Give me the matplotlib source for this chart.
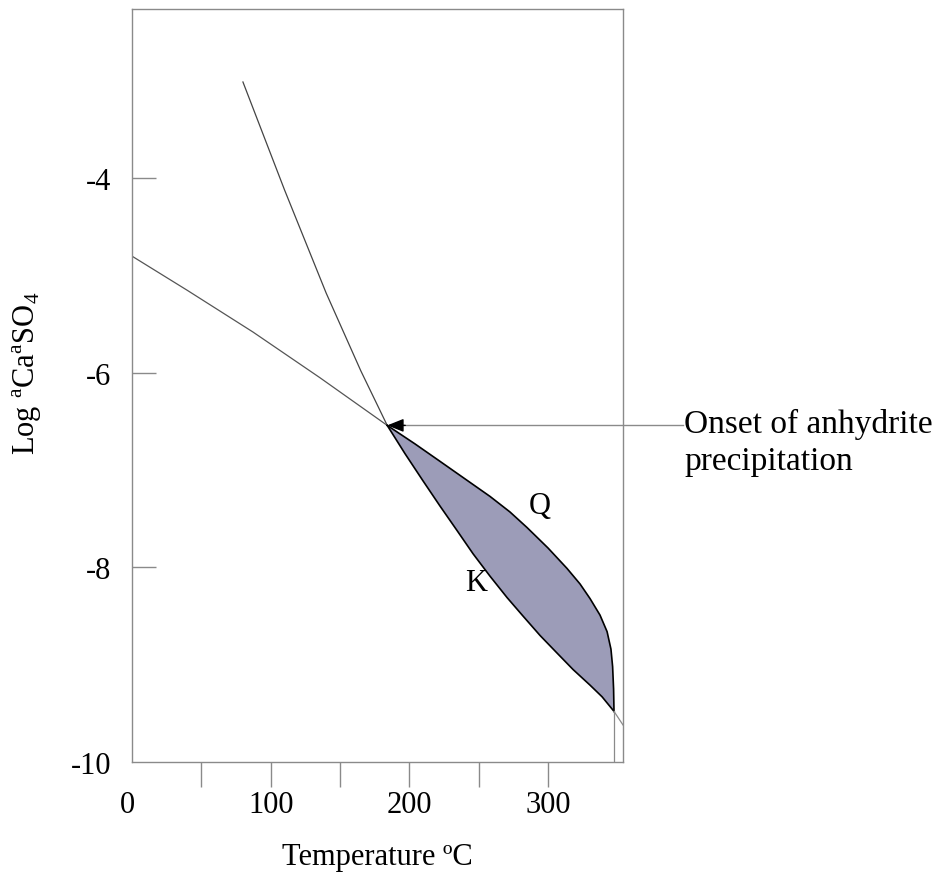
import matplotlib
matplotlib.use("Agg")
import matplotlib.pyplot as plt
import matplotlib.transforms as mtransforms

plt.rcParams['font.family'] = ['Liberation Serif', 'DejaVu Serif']
plt.rcParams['mathtext.fontset'] = 'custom'
plt.rcParams['mathtext.rm'] = 'Liberation Serif'

# steep line (upper left)
a_temp = [80.0, 110.0, 140.0, 165.0, 184.0]
a_log = [-3.01, -4.12, -5.18, -5.98, -6.54]
# shallow line from the y axis
b_temp = [0.0, 39.7, 87.2, 135.5, 184.0]
b_log = [-4.80, -5.15, -5.58, -6.05, -6.54]
# Q curve (upper edge of field)
q_temp = [184.0, 204.0, 222.1, 240.1, 258.1, 272.5, 284.8, 299.9,
          313.6, 323.0, 330.2, 337.4, 342.5, 345.3, 346.5, 347.2, 347.5]
q_log = [-6.54, -6.73, -6.91, -7.09, -7.27, -7.43, -7.59, -7.80,
         -8.01, -8.17, -8.32, -8.49, -8.66, -8.84, -9.02, -9.25, -9.48]
# K curve (lower edge of field)
k_temp = [184.0, 196.8, 209.8, 222.1, 234.3, 245.9, 258.1, 270.4,
          281.9, 294.2, 306.4, 318.0, 330.2, 338.9, 347.5]
k_log = [-6.54, -6.83, -7.11, -7.37, -7.62, -7.86, -8.09, -8.31,
         -8.50, -8.70, -8.88, -9.05, -9.21, -9.33, -9.48]
k_tail_temp = [347.5, 354.0]
k_tail_log = [-9.48, -9.62]
vert_temp = [347.5, 347.5]
vert_log = [-9.48, -10.0]

onset = (184.0, -6.54)
arrow_start = 397.0

x_major = [0, 100, 200, 300]
x_minor = [50, 150, 250]
y_ticks = [-4, -6, -8, -10]

fig = plt.figure(figsize=(9.48, 8.79), dpi=100)
ax = fig.add_axes([0.1392, 0.1320, 0.518, 0.8566])

gray = '#8a8a8a'
fill_col = '#9c9cb8'

ax.fill(q_temp + k_temp[::-1], q_log + k_log[::-1], color=fill_col, lw=0)
ax.plot(a_temp, a_log, color='#444444', lw=0.9)
ax.plot(b_temp, b_log, color='#555555', lw=0.9)
ax.plot(q_temp, q_log, color='black', lw=1.2)
ax.plot(k_temp, k_log, color='black', lw=1.2)
ax.plot(k_tail_temp, k_tail_log, color=gray, lw=0.9)
ax.plot(vert_temp, vert_log, color=gray, lw=0.9)

# arrow to onset point
ax.plot([onset[0] + 5, arrow_start], [onset[1], onset[1]], color=gray, lw=1.0, clip_on=False)
ax.annotate('', xy=onset, xytext=(onset[0] + 13, onset[1]),
            arrowprops=dict(arrowstyle='-|>,head_length=1.0,head_width=0.4',
                            color='black', lw=1.0, shrinkA=0, shrinkB=0))

fig.text(684 / 948, 1 - 409 / 879, 'Onset of anhydrite\nprecipitation',
         fontsize=24, va='top', ha='left', linespacing=1.28)

ax.text(294, -7.36, 'Q', fontsize=22, ha='center', va='center')
ax.text(248, -8.15, 'K', fontsize=22, ha='center', va='center')

ax.set_xlim(0, 354)
ax.set_ylim(-10, -2.26)

ax.set_xticks(x_major)
ax.set_xticks(x_minor, minor=True)
ax.set_yticks(y_ticks)
ax.set_xticklabels([str(v) for v in x_major])
ax.set_yticklabels([str(v) for v in y_ticks])

ax.tick_params(axis='x', which='both', direction='out', length=18, width=1,
               color=gray, pad=2, labelsize=22)
ax.tick_params(axis='y', direction='in', length=17, width=1, color=gray,
               pad=15, labelsize=22)
ax.xaxis.get_major_ticks()[0].tick1line.set_visible(False)
ax.yaxis.get_major_ticks()[-1].tick1line.set_visible(False)

# the "0" label sits a little left of the spine in the original
zero_lbl = ax.xaxis.get_major_ticks()[0].label1
zero_lbl.set_transform(zero_lbl.get_transform() +
                       mtransforms.ScaledTranslation(-5 / 100, 0, fig.dpi_scale_trans))

for s in ax.spines.values():
    s.set_color(gray)
    s.set_linewidth(1.0)

ax.set_xlabel('Temperature ºC', fontsize=22)
ax.xaxis.set_label_coords(0.5, -0.125)
ax.xaxis.label.set_va('center')
ax.set_ylabel(r'Log $^{\mathrm{a}}$Ca$^{\mathrm{a}}$SO$_{4}$', fontsize=22)
ax.yaxis.set_label_coords(-0.214, 0.518)
ax.yaxis.label.set_va('center')

fig.savefig('out.png', dpi=100)
